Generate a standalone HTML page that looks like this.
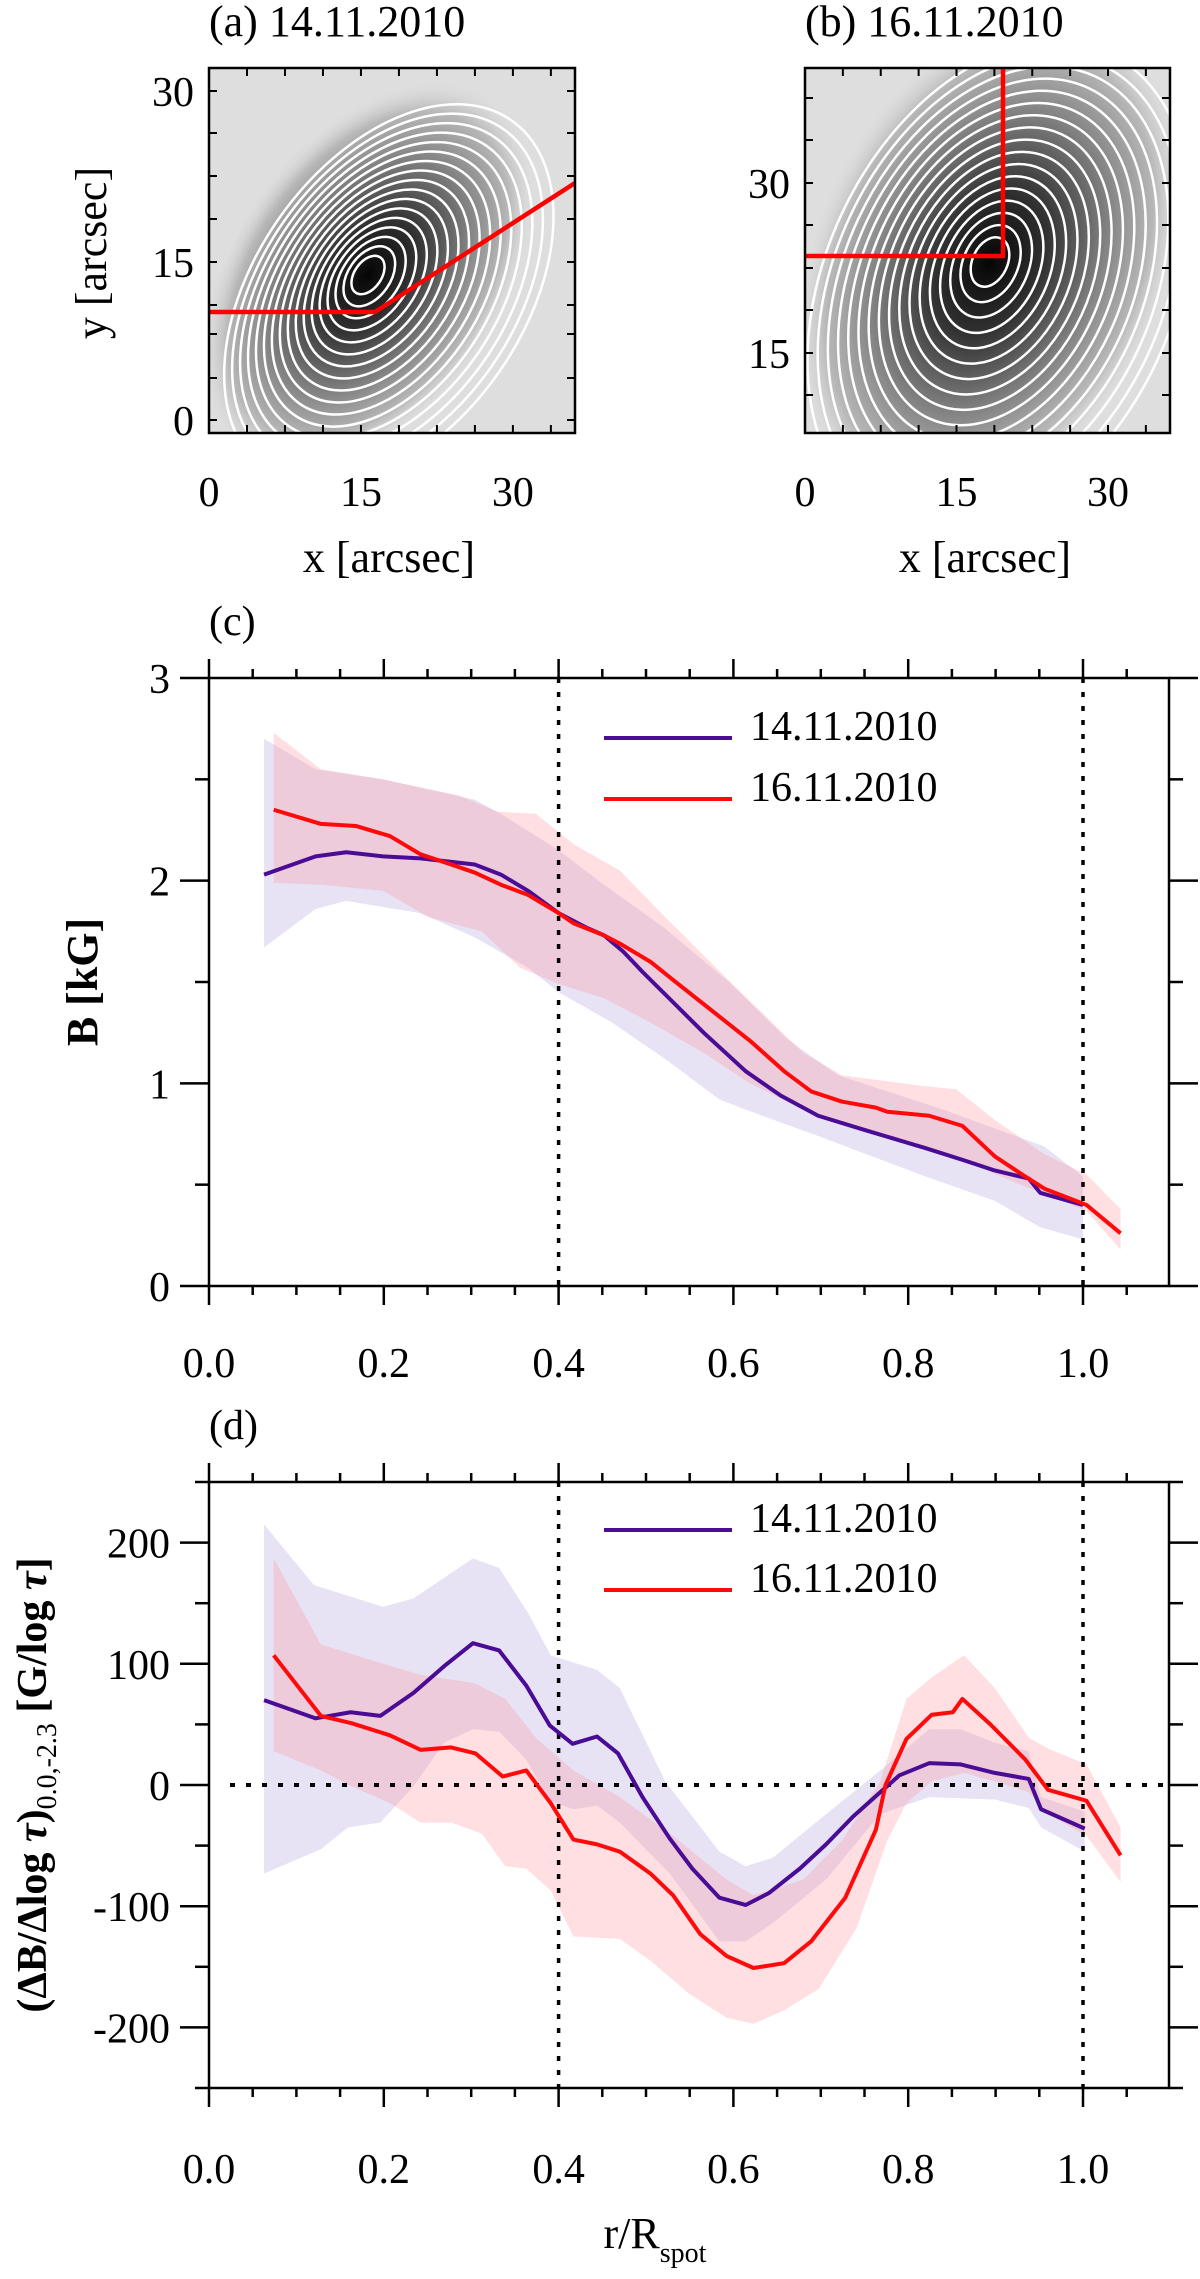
<!DOCTYPE html>
<html><head><meta charset="utf-8"><style>
html,body{margin:0;padding:0;background:#fff;}
svg{display:block;font-family:"Liberation Serif",serif;}
</style></head><body>
<svg id="fig" width="1200" height="2279" viewBox="0 0 1200 2279" xmlns="http://www.w3.org/2000/svg">
<defs>
<radialGradient id="ga" cx="0.5" cy="0.5" r="0.5">
<stop offset="0" stop-color="#050505"/><stop offset="0.3" stop-color="#333"/><stop offset="0.6" stop-color="#808080"/><stop offset="0.85" stop-color="#b8b8b8"/><stop offset="1" stop-color="#d8d8d8" stop-opacity="0"/>
</radialGradient>
<clipPath id="ca"><rect x="209" y="68" width="366" height="365"/></clipPath>
<clipPath id="cb"><rect x="805" y="68" width="365" height="365"/></clipPath>
</defs>
<g id="root"></g>
</svg>
<script>
// ---------- panel (c) data ----------
const cPurpleX=[0.063,0.122,0.157,0.199,0.242,0.304,0.334,0.365,0.400,0.431,0.452,0.474,0.496,0.531,0.566,0.614,0.654,0.697,0.750,0.820,0.864,0.899,0.938,0.951,1.000];
const cPurpleY=[2.03,2.12,2.14,2.12,2.11,2.08,2.03,1.95,1.84,1.77,1.73,1.65,1.55,1.40,1.25,1.06,0.94,0.84,0.77,0.68,0.62,0.57,0.53,0.46,0.40];
const cPurpleHiX=[0.063,0.122,0.199,0.304,0.334,0.400,0.452,0.520,0.595,0.661,0.720,0.840,0.955,1.000];
const cPurpleHiY=[2.70,2.55,2.50,2.40,2.33,2.15,1.98,1.77,1.50,1.22,1.04,0.87,0.69,0.54];
const cPurpleLoX=[0.063,0.122,0.157,0.199,0.242,0.304,0.365,0.400,0.461,0.522,0.584,0.614,0.697,0.820,0.899,0.951,1.000];
const cPurpleLoY=[1.67,1.86,1.90,1.87,1.84,1.72,1.57,1.45,1.30,1.12,0.92,0.87,0.74,0.54,0.42,0.29,0.23];
const cRedX=[0.074,0.128,0.168,0.207,0.242,0.277,0.304,0.334,0.365,0.400,0.417,0.452,0.470,0.505,0.531,0.575,0.619,0.658,0.689,0.724,0.763,0.776,0.824,0.862,0.899,0.934,0.956,1.004,1.043];
const cRedY=[2.35,2.28,2.27,2.22,2.13,2.08,2.04,1.98,1.93,1.84,1.79,1.73,1.69,1.60,1.51,1.36,1.21,1.06,0.96,0.91,0.88,0.86,0.84,0.79,0.64,0.54,0.48,0.40,0.26];
const cRedHiX=[0.074,0.128,0.199,0.286,0.330,0.374,0.417,0.470,0.522,0.592,0.680,0.724,0.811,0.855,0.899,0.956,1.004,1.043];
const cRedHiY=[2.73,2.55,2.50,2.42,2.34,2.33,2.18,2.05,1.82,1.52,1.15,1.04,0.99,0.97,0.82,0.65,0.55,0.38];
const cRedLoX=[0.074,0.128,0.199,0.251,0.312,0.356,0.400,0.452,0.505,0.566,0.619,0.680,0.724,0.811,0.864,0.917,1.004,1.043];
const cRedLoY=[1.99,1.98,1.95,1.82,1.75,1.57,1.49,1.42,1.30,1.15,1.00,0.87,0.80,0.70,0.62,0.52,0.37,0.18];
const cYTicks=[0,1,2,3];
const xTicks=[0.0,0.2,0.4,0.6,0.8,1.0];
// ---------- panel (d) data ----------
const dPurpleX=[0.063,0.122,0.162,0.196,0.234,0.269,0.302,0.332,0.363,0.390,0.416,0.444,0.468,0.496,0.527,0.553,0.584,0.614,0.641,0.676,0.706,0.737,0.768,0.790,0.824,0.860,0.899,0.938,0.952,1.002];
const dPurpleY=[70,55,60,57,76,98,117,111,82,49,34,40,26,-10,-44,-69,-93,-99,-89,-69,-49,-26,-6,8,18,17,10,5,-20,-36];
const dPurpleHiX=[0.063,0.120,0.199,0.234,0.302,0.332,0.365,0.391,0.444,0.470,0.522,0.584,0.614,0.645,0.706,0.768,0.824,0.860,0.899,0.938,0.952,1.002];
const dPurpleHiY=[215,165,147,154,187,179,142,107,95,80,3,-55,-67,-60,-24,12,46,46,35,28,-10,-22];
const dPurpleLoX=[0.063,0.128,0.159,0.196,0.234,0.269,0.302,0.332,0.363,0.390,0.417,0.444,0.470,0.527,0.584,0.614,0.645,0.706,0.768,0.824,0.899,0.938,0.952,1.002];
const dPurpleLoY=[-73,-53,-35,-31,-1,35,46,44,21,-13,-20,-17,-31,-73,-129,-129,-114,-78,-24,-10,-12,-19,-35,-55];
const dRedX=[0.074,0.128,0.163,0.207,0.242,0.277,0.305,0.336,0.363,0.391,0.417,0.444,0.470,0.505,0.531,0.562,0.592,0.623,0.658,0.689,0.728,0.763,0.774,0.798,0.827,0.851,0.862,0.894,0.934,0.960,1.004,1.043];
const dRedY=[107,57,51,41,29,31,26,7,12,-15,-45,-49,-55,-73,-91,-123,-141,-151,-147,-129,-93,-37,0,38,58,60,71,50,21,-4,-13,-58];
const dRedHiX=[0.074,0.128,0.199,0.242,0.304,0.339,0.374,0.417,0.470,0.531,0.592,0.623,0.680,0.724,0.768,0.798,0.827,0.864,0.899,0.938,0.960,1.004,1.043];
const dRedHiY=[187,116,100,91,84,71,39,12,-10,-42,-78,-91,-78,-46,3,71,89,107,80,39,30,17,-35];
const dRedLoX=[0.074,0.128,0.163,0.207,0.242,0.277,0.312,0.339,0.363,0.391,0.417,0.470,0.505,0.549,0.592,0.623,0.658,0.698,0.741,0.776,0.798,0.827,0.864,0.899,0.938,0.960,1.004,1.043];
const dRedLoY=[28,12,-1,-15,-31,-31,-40,-67,-69,-87,-125,-127,-145,-172,-192,-197,-186,-168,-118,-46,-15,3,10,3,-6,-24,-42,-80];
const dYTicks=[-200,-100,0,100,200];

const NS="http://www.w3.org/2000/svg";
const root=document.getElementById('root');
function el(tag,attrs,parent,text){const e=document.createElementNS(NS,tag);for(const k in attrs)e.setAttribute(k,attrs[k]);if(text!==undefined)e.textContent=text;(parent||root).appendChild(e);return e;}
const PURPLE="#4a0c94", RED="#ff0a0a";

function panel(cfg){
  const g=el('g',{});
  
  
  const L=209,R=1169,T=cfg.top,B=cfg.bottom;
  const xs=v=>L+v*874; const ys=v=>B-(v-cfg.ymin)/(cfg.ymax-cfg.ymin)*(B-T);
  function band(hx,hy,lx,ly,fill,nm){
    let pts=hx.map((x,i)=>xs(x)+','+ys(hy[i]));
    for(let i=lx.length-1;i>=0;i--)pts.push(xs(lx[i])+','+ys(ly[i]));
    const p=el('polygon',{points:pts.join(' '),fill:fill},g);
    
    
  }
  band(cfg.pHX,cfg.pHY,cfg.pLX,cfg.pLY,'rgba(170,155,220,0.28)','band-14-11-2010');
  band(cfg.rHX,cfg.rHY,cfg.rLX,cfg.rLY,'rgba(255,140,150,0.28)','band-16-11-2010');
  [0.4,1.0].forEach(v=>{const l=el('line',{x1:xs(v),x2:xs(v),y1:T,y2:B,stroke:'#000','stroke-width':3.5,'stroke-dasharray':'5 9'},g);
    
    });
  if(cfg.zero){const l=el('line',{x1:230,x2:R,y1:ys(0),y2:ys(0),stroke:'#000','stroke-width':4,'stroke-dasharray':'5 11'},g);
    
    }
  function line(X,Y,c,nm){const p=el('polyline',{points:X.map((x,i)=>xs(x)+','+ys(Y[i])).join(' '),fill:'none',stroke:c,'stroke-width':4,'stroke-linejoin':'round'},g);
    
    }
  line(cfg.pX,cfg.pY,PURPLE,'line-14-11-2010');
  line(cfg.rX,cfg.rY,RED,'line-16-11-2010');
  const f=el('rect',{x:L,y:T,width:R-L,height:B-T,fill:'none',stroke:'#000','stroke-width':2.5},g);
  
  
  for(let i=0;i<=22;i++){const v=i*0.05,x=xs(v);if(x>R+1)break;const big=i%4==0;const len=big?19:9;
    el('line',{x1:x,x2:x,y1:B,y2:B+len,stroke:'#000','stroke-width':2.5},g);
    el('line',{x1:x,x2:x,y1:T,y2:T-len,stroke:'#000','stroke-width':2.5},g);}
  xTicks.forEach(v=>{const t=el('text',{x:xs(v),y:cfg.xlabY,'font-size':42,'text-anchor':'middle'},g,v.toFixed(1));
    
    });
  const step=cfg.ystep/2;
  for(let v=cfg.ymin;v<=cfg.ymax+1e-9;v+=step){const y=ys(v);const big=Math.abs((v/cfg.ystep)-Math.round(v/cfg.ystep))<1e-6;const len=big?29:14;
    el('line',{x1:L-len,x2:L,y1:y,y2:y,stroke:'#000','stroke-width':2.5},g);
    el('line',{x1:R,x2:R+len,y1:y,y2:y,stroke:'#000','stroke-width':2.5},g);}
  cfg.yticks.forEach(v=>{const t=el('text',{x:cfg.ylabX,y:ys(v)+15,'font-size':42,'text-anchor':'end'},g,String(v));
    
    });
  [[cfg.leg1,PURPLE,'14.11.2010'],[cfg.leg2,RED,'16.11.2010']].forEach(([y,c,s])=>{
    const lg=el('g',{},g);
    
    
    el('line',{x1:604,x2:732,y1:y,y2:y,stroke:c,'stroke-width':4},lg);
    el('text',{x:750,y:y+2,'font-size':42},lg,s);});
  const pl=el('text',{x:209,y:T-43,'font-size':42},g,cfg.letter);
  
  
}

panel({name:'panel-c-field-strength',top:678,bottom:1286,ymin:0,ymax:3,ystep:1,yticks:cYTicks,xlabY:1377,ylabX:170,leg1:738,leg2:799,letter:'(c)',zero:false,
 pX:cPurpleX,pY:cPurpleY,pHX:cPurpleHiX,pHY:cPurpleHiY,pLX:cPurpleLoX,pLY:cPurpleLoY,
 rX:cRedX,rY:cRedY,rHX:cRedHiX,rHY:cRedHiY,rLX:cRedLoX,rLY:cRedLoY});
panel({name:'panel-d-gradient',top:1482,bottom:2088,ymin:-250,ymax:250,ystep:100,yticks:dYTicks,xlabY:2183,ylabX:170,leg1:1530,leg2:1590,letter:'(d)',zero:true,
 pX:dPurpleX,pY:dPurpleY,pHX:dPurpleHiX,pHY:dPurpleHiY,pLX:dPurpleLoX,pLY:dPurpleLoY,
 rX:dRedX,rY:dRedY,rHX:dRedHiX,rHY:dRedHiY,rLX:dRedLoX,rLY:dRedLoY});

let t=el('text',{x:0,y:0,'font-size':44,'font-weight':'bold','text-anchor':'middle',transform:'translate(97,982) rotate(-90)'},root,'B [kG]');


t=el('text',{x:0,y:0,'font-size':42,'font-weight':'bold','text-anchor':'middle',transform:'translate(46,1785) rotate(-90)'},root);


t.innerHTML='(ΔB/Δlog <tspan font-style="italic">τ</tspan>)<tspan font-size="28" font-weight="normal" dy="10">0.0,-2.3</tspan><tspan dy="-10"> [G/log <tspan font-style="italic">τ</tspan>]</tspan>';
t=el('text',{x:655,y:2248,'font-size':44,'text-anchor':'middle'},root);


t.innerHTML='r/R<tspan font-size="28" dy="14">spot</tspan>';

function map(cfg){
  const g=el('g',{});
  
  
  const L=cfg.L,T=68,W=cfg.W,H=365;
  const img=el('g',{'clip-path':'url(#'+cfg.clip+')'},g);
  el('rect',{x:L,y:T,width:W,height:H,fill:'#dedede'},img);
  el('ellipse',{cx:cfg.cx,cy:cfg.cy,rx:cfg.rx*1.0,ry:cfg.ry*1.0,fill:'url(#ga)',transform:`rotate(${cfg.rot} ${cfg.cx} ${cfg.cy})`},img);
  for(let i=0;i<cfg.n;i++){const f=0.1+i*(0.95/cfg.n);
    el('ellipse',{cx:cfg.cx+cfg.dx*i,cy:cfg.cy+cfg.dy*i,rx:cfg.rx*f,ry:cfg.ry*f,fill:'none',stroke:'#fff','stroke-width':2.5,transform:`rotate(${cfg.rot} ${cfg.cx} ${cfg.cy})`},img);}
  const r=el('polyline',{points:cfg.red,fill:'none',stroke:'#ff0000','stroke-width':4.5},img);
  
  
  el('rect',{x:L,y:T,width:W,height:H,fill:'none',stroke:'#000','stroke-width':2.5},g);
  cfg.xt.forEach(v=>{const x=L+v*cfg.sx;
    el('line',{x1:x,x2:x,y1:T+H,y2:T+H-8,stroke:'#000','stroke-width':2},g);
    el('line',{x1:x,x2:x,y1:T,y2:T+8,stroke:'#000','stroke-width':2},g);});
  [0,15,30].forEach(v=>{const tt=el('text',{x:L+v*cfg.sx,y:506,'font-size':42,'text-anchor':'middle'},g,String(v));
    
    });
  cfg.yt.forEach(([v,y,lab])=>{
    el('line',{x1:L,x2:L+8,y1:y,y2:y,stroke:'#000','stroke-width':2},g);
    el('line',{x1:L+W,x2:L+W-8,y1:y,y2:y,stroke:'#000','stroke-width':2},g);
    if(lab){const tt=el('text',{x:L-15,y:y+15,'font-size':42,'text-anchor':'end'},g,String(v));
      
      }});
  let a=el('text',{x:L+180,y:572,'font-size':44,'text-anchor':'middle'},g,'x [arcsec]');
  
  
  a=el('text',{x:L,y:36,'font-size':44},g,cfg.title);
  
  
}
map({name:'panel-a-map',L:209,W:366,clip:'ca',cx:368,cy:275,rx:215,ry:135,rot:-55,n:17,dx:-0.3,dy:1.8,sx:10.13,
 red:'209,312 375,312 575,183',title:'(a) 14.11.2010',
 xt:[0,3.75,7.5,11.25,15,18.75,22.5,26.25,30,33.75],
 yt:[[0,420,true],[3.75,378,false],[7.5,334,false],[11.25,305,false],[15,262,true],[18.75,219,false],[22.5,176,false],[26.25,133,false],[30,91,true]]});
map({name:'panel-b-map',L:805,W:365,clip:'cb',cx:990,cy:262,rx:260,ry:175,rot:-65,n:17,dx:-1.2,dy:1.2,sx:10.1,
 red:'805,256 1003,256 1003,68',title:'(b) 16.11.2010',
 xt:[0,3.75,7.5,11.25,15,18.75,22.5,26.25,30,33.75],
 yt:[[15,353,true],[18.75,310,false],[22.5,268,false],[26.25,225,false],[30,183,true],[33.75,140,false],[37.5,98,false],[11.25,395,false]]});
t=el('text',{x:0,y:0,'font-size':44,'text-anchor':'middle',transform:'translate(106,253) rotate(-90)'},root,'y [arcsec]');


</script>
</body></html>
